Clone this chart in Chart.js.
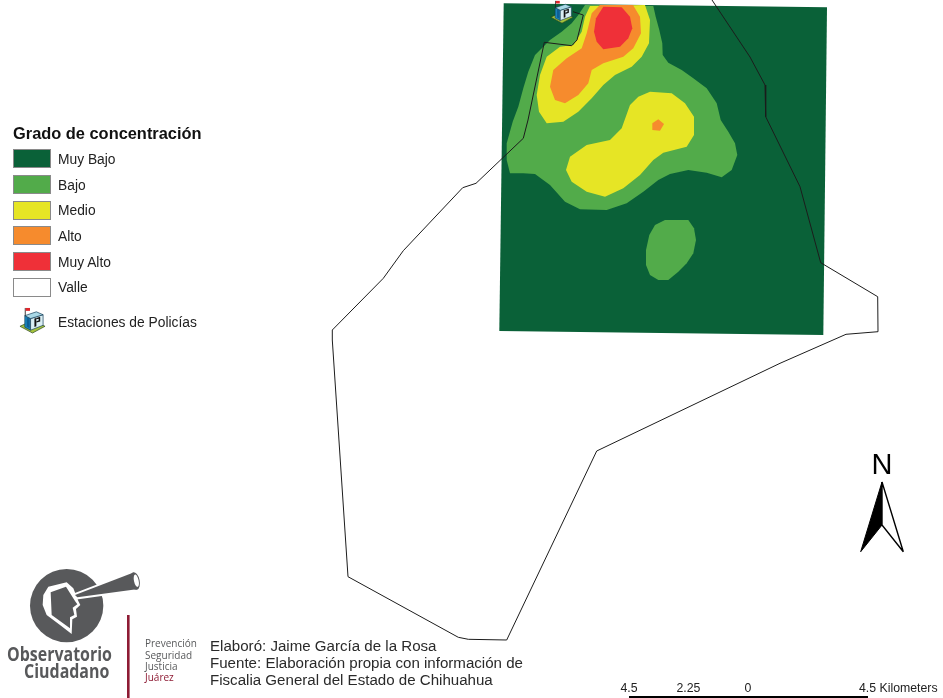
<!DOCTYPE html>
<html>
<head>
<meta charset="utf-8">
<title>Grado de concentración</title>
<script src="https://cdn.jsdelivr.net/npm/chart.js@4/dist/chart.umd.min.js"></script>
<style>
  html, body { margin: 0; padding: 0; background: #fff; overflow: hidden; }
  #wrap { position: relative; width: 943px; height: 698px; overflow: hidden; font-family: "Liberation Sans", Arial, sans-serif; }
  #mapa { position: absolute; left: 0; top: 0; }
  #dibujos { position: absolute; left: 0; top: 0; }
  .t { position: absolute; white-space: nowrap; line-height: 1; }
  .sw { position: absolute; left: 13px; width: 36px; height: 17px; border: 1.5px solid #8a8a8a; }
  .logo { font-family: "Open Sans", sans-serif; color: #58595b; }
</style>
</head>
<body>
<div id="wrap">
  <canvas id="mapa" width="943" height="698"></canvas>
  <svg id="dibujos" width="943" height="698" viewBox="0 0 943 698">
    <!-- flecha norte -->
    <path d="M882 482 L860.7 551.7 L882 525 Z" fill="#000" stroke="#000" stroke-width="1"/>
    <path d="M882 482 L903.3 551.7 L882 525 Z" fill="#fff" stroke="#000" stroke-width="1.4"/>
    <!-- logo -->
    <g transform="translate(20,565) scale(0.3333)">
      <circle cx="140" cy="122" r="110" fill="#58595b"/>
      <path d="M68 120 L70 90 L85 65 L140 52 L160 70 L175 108 L181 120 L168 132 L171 155 L157 163 L155 207 L120 180 L80 150 Z" fill="#fff"/>
      <path d="M92 82 L138 65 L165 108 L172 118 L158 128 L163 150 L150 157 L150 190 L95 150 Z" fill="#58595b"/>
      <path d="M165 90 L335 25 L355 72 L172 97 Z" fill="#58595b" stroke="#fff" stroke-width="12" paint-order="stroke"/>
      <ellipse cx="345" cy="48" rx="14" ry="27" fill="#58595b" transform="rotate(-12 345 48)"/>
      <ellipse cx="349" cy="47" rx="7" ry="19" fill="#fff" transform="rotate(-12 349 47)"/>
    </g>
    <rect x="127" y="615" width="2.6" height="83" fill="#8e1b34"/>
  </svg>
  <div id="textos"></div>
</div>
<script>
// niveles de la leyenda
var niveles = ['Muy Bajo', 'Bajo', 'Medio', 'Alto', 'Muy Alto', 'Valle'];
var colores = ['#0a6138', '#52ab4a', '#e6e525', '#f68b2d', '#ef3038', '#ffffff'];

var rasterMuyBajo = [[503.7,3.3],[827,7.3],[823.3,335],[499.3,331]];
var bajoCentro = [[585,5],[653.3,6],[655.7,16.7],[659.3,30],[662.3,43.3],[662.7,55],[668.3,62.7],[681.7,70],[693.3,78.3],[706.7,88.3],[716.7,103.3],[720.7,120],[728.3,131.7],[735,143.3],[737.3,155],[731.7,170],[721.7,177.3],[706.7,172.7],[688.3,170],[670,174],[658.3,180],[643.3,191.7],[626.7,203.3],[606.7,210],[580,209.3],[565,201.7],[550,185],[535,174],[523.3,173.3],[510,173.3],[506.7,160],[506.7,143.3],[512.7,121.7],[518.3,106.7],[523.3,88.3],[528.3,71.7],[535,55],[550,40],[561.7,31.7],[571.7,23.3],[578.3,15]];
var bajoSur = [[665,220],[688.3,220],[694,228.3],[696,240],[693.3,253.3],[686.7,263.3],[678.3,271.7],[668.3,280],[658.3,280],[650,275],[646,265],[646,250],[649.3,235],[655,225]];
var medioNorte = [[590,6],[645,5],[650,20],[649,43.3],[641.7,56.7],[631.7,66.7],[615,75],[603.3,85],[591.7,98.3],[578.3,111.7],[563.3,121.7],[546.7,123.3],[539,111.7],[536.7,95],[540,75],[546.7,56.7],[560,46.7],[573.3,45],[581.7,31.7],[585,16.7]];
var medioCentro = [[650,91.7],[671.7,93.3],[685,103.3],[694,116.7],[694,135],[686.7,146.7],[663.3,152.7],[653.3,160],[640,175],[623.3,188.3],[605,196.7],[586.7,191.7],[571.7,181.7],[566,170],[570,156.7],[586.7,145],[610,140],[621.7,128.3],[630,105],[638.3,96.7]];
var altoNorte = [[600,5],[633,5],[640,16.7],[641,33.3],[633.3,48.3],[623.3,56.7],[603.3,63.3],[591.7,70],[588.3,83.3],[578.3,95],[565,103.3],[555,100],[550,86.7],[553.3,70],[566.7,58.3],[581.7,48.3],[586.7,33.3],[591.7,13.3]];
var altoCentro = [[658.3,119.3],[664,124],[660,130.7],[652.3,130],[652.3,123.3]];
var muyAlto = [[603.3,6.7],[621.7,7.3],[630,16.7],[632.3,28.3],[628.3,38.3],[620,46.7],[603.3,49.3],[596.7,41.7],[594,31.7],[596,18.3]];
var valle = [[712,0],[750,57],[765,85],[765.7,116.7],[800,186.7],[820.7,262.7],[877.7,296.7],[878,331.7],[846,334.3],[780,363.3],[596.7,451],[506.7,640],[468.3,639.3],[458.3,637.3],[348,576.7],[332.3,340],[332.3,330],[383.3,278.3],[403.3,250.7],[462.7,187.7],[476,183.3],[523.3,138.3],[528,120],[544.3,42.3],[571.7,45.7],[577,40],[583.3,15],[573,11.7]];
var estaciones = [[562,12]];
var barraEscala = [[629,697],[868,697]];

function puntos(lista) {
  return lista.map(function(p) { return { x: p[0], y: p[1] }; });
}

// icono de la estacion de policia
function iconoEstacion(tam) {
  var c = document.createElement('canvas');
  c.width = tam; c.height = tam;
  var g = c.getContext('2d');
  g.scale(tam / 28, tam / 28);
  function poli(pts, relleno, borde) {
    g.beginPath();
    pts.forEach(function(p, i) { if (i) g.lineTo(p[0], p[1]); else g.moveTo(p[0], p[1]); });
    g.closePath();
    g.fillStyle = relleno; g.fill();
    if (borde) { g.strokeStyle = borde; g.lineWidth = 0.7; g.stroke(); }
  }
  poli([[1,20],[14,14],[27,20],[14,27]], '#a5c23c', '#24411c');
  poli([[6,9],[12,12],[12,24],[6,21]], '#1c8ac2', '#123a55');
  poli([[12,12],[25,8],[25,19],[12,24]], '#d9eef3', '#123a55');
  poli([[6,9],[18,5],[25,8],[12,12]], '#a9d8e6', '#123a55');
  poli([[8,10.5],[11,12],[11,22],[8,20.5]], '#0f5f95');
  // letra P
  poli([[16,12],[18,11.4],[18,20],[16,20.8]], '#111');
  poli([[18,11.4],[22,10.2],[22,15],[18,16.2]], '#111');
  poli([[18,12.8],[20.4,12.1],[20.4,14],[18,14.7]], '#d9eef3');
  // bandera
  g.fillStyle = '#222'; g.fillRect(6, 1, 0.9, 8);
  g.fillStyle = '#e0262c'; g.fillRect(6.9, 1, 4.5, 3);
  return c;
}

function poligono(etiqueta, lista, color) {
  return {
    label: etiqueta,
    data: puntos(lista),
    showLine: true,
    fill: 'shape',
    backgroundColor: color,
    borderWidth: 0,
    pointRadius: 0
  };
}

// el primer dataset queda encima
var datasets = [
  { label: 'Estaciones de Policías', data: puntos(estaciones), pointStyle: iconoEstacion(24), pointRadius: 12, showLine: false, clip: false },
  { label: 'Valle', data: puntos(valle), showLine: true, fill: false, borderColor: '#1c1c1c', borderWidth: 1, pointRadius: 0, clip: false },
  { label: 'Escala', data: puntos(barraEscala), showLine: true, fill: false, borderColor: '#000', borderWidth: 2, pointRadius: 0 },
  poligono('Muy Alto', muyAlto, colores[4]),
  poligono('Alto centro', altoCentro, colores[3]),
  poligono('Alto norte', altoNorte, colores[3]),
  poligono('Medio centro', medioCentro, colores[2]),
  poligono('Medio norte', medioNorte, colores[2]),
  poligono('Bajo sur', bajoSur, colores[1]),
  poligono('Bajo centro', bajoCentro, colores[1]),
  poligono('Muy Bajo', rasterMuyBajo, colores[0])
];

var grafico = new Chart(document.getElementById('mapa').getContext('2d'), {
  type: 'scatter',
  data: { datasets: datasets },
  options: {
    responsive: false,
    animation: false,
    events: [],
    layout: { padding: 0, autoPadding: false },
    plugins: { legend: { display: false }, tooltip: { enabled: false } },
    scales: {
      x: { type: 'linear', min: 0, max: 943, display: false },
      y: { type: 'linear', min: 0, max: 698, reverse: true, display: false }
    }
  }
});

// textos y leyenda
var caja = document.getElementById('textos');
function texto(s, x, base, tam, extra) {
  var d = document.createElement('div');
  d.className = 't';
  d.textContent = s;
  d.style.left = x + 'px';
  d.style.top = (base - tam * 0.8465) + 'px';
  d.style.fontSize = tam + 'px';
  if (extra) Object.assign(d.style, extra);
  caja.appendChild(d);
  return d;
}

texto('Grado de concentración', 13, 139, 16.4, { fontWeight: 'bold', color: '#111' });
niveles.forEach(function(n, i) {
  var y = 149.3 + i * 25.7;
  var s = document.createElement('div');
  s.className = 'sw';
  s.style.top = y + 'px';
  s.style.background = colores[i];
  caja.appendChild(s);
  texto(n, 58, y + 15.2, 13.8, { color: '#222' });
});
var ico = iconoEstacion(27);
ico.style.position = 'absolute';
ico.style.left = '19px';
ico.style.top = '307px';
caja.appendChild(ico);
texto('Estaciones de Policías', 58, 328, 13.8, { color: '#222' });

texto('N', 871.5, 475, 29, { color: '#000' });

var escalaTxt = [['4.5', 620.5], ['2.25', 676.5], ['0', 744.5], ['4.5 Kilometers', 859]];
escalaTxt.forEach(function(e) { texto(e[0], e[1], 692, 12.3, { color: '#222' }); });

var creditos = ['Elaboró: Jaime García de la Rosa', 'Fuente: Elaboración propia con información de', 'Fiscalia General del Estado de Chihuahua'];
creditos.forEach(function(l, i) { texto(l, 210, 650.5 + i * 17.3, 15.1, { color: '#2a2a2a' }); });

var lemas = ['Prevención', 'Seguridad', 'Justicia', 'Juárez'];
lemas.forEach(function(l, i) {
  var d = texto(l, 145, 646.7 + i * 11.4, 10, { color: i == 3 ? '#8e1b34' : '#58595b' });
  d.classList.add('logo');
});
var estrecho = { fontWeight: '700', transform: 'scaleX(0.84)', transformOrigin: 'left' };
var a = texto('Observatorio', 7, 660.7, 19, estrecho); a.classList.add('logo');
var b = texto('Ciudadano', 24, 677.7, 19, estrecho); b.classList.add('logo');
</script>
</body>
</html>
